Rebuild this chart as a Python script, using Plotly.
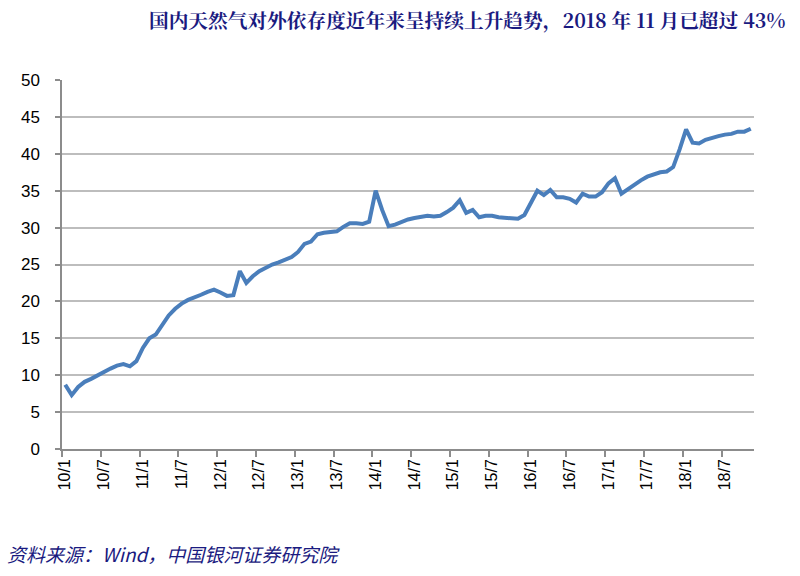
import plotly.graph_objects as go

# Monthly data 2010/1 - 2018/11 (%)
values_2010 = [8.7, 7.3, 8.4, 9.1, 9.5, 10.0, 10.4, 10.9, 11.3, 11.5, 11.2, 11.9]
values_2011 = [13.7, 15.0, 15.5, 16.8, 18.1, 19.0, 19.7, 20.2, 20.5, 20.9, 21.3, 21.6]
values_2012 = [21.2, 20.75, 20.85, 24.1, 22.5, 23.4, 24.1, 24.6, 25.0, 25.3, 25.6, 26.0]
values_2013 = [26.7, 27.8, 28.1, 29.1, 29.3, 29.35, 29.5, 30.1, 30.6, 30.6, 30.5, 30.8]
values_2014 = [35.0, 32.4, 30.2, 30.4, 30.8, 31.1, 31.3, 31.5, 31.6, 31.5, 31.6, 32.1]
values_2015 = [32.7, 33.7, 32.0, 32.4, 31.4, 31.6, 31.6, 31.4, 31.35, 31.3, 31.2, 31.7]
values_2016 = [33.5, 35.0, 34.4, 35.1, 34.1, 34.1, 33.9, 33.4, 34.6, 34.2, 34.2, 34.8]
values_2017 = [36.0, 36.7, 34.6, 35.2, 35.9, 36.4, 36.9, 37.2, 37.5, 37.6, 38.2, 40.6]
values_2018 = [43.3, 41.5, 41.4, 41.9, 42.2, 42.4, 42.6, 42.7, 43.0, 43.0, 43.4]

values = (values_2010 + values_2011 + values_2012 + values_2013 + values_2014
          + values_2015 + values_2016 + values_2017 + values_2018)

years = list(range(10, 19))
months = [f"{y}/{m}" for y in years for m in range(1, 13)][:len(values)]
tick_labels = [m for m in months if m.endswith("/1") or m.endswith("/7")]
tick_idx = [months.index(t) for t in tick_labels]
x_idx = list(range(len(values)))

title_text = "国内天然气对外依存度近年来呈持续上升趋势，2018 年 11 月已超过 43%"
source_text = "资料来源：Wind，中国银河证券研究院"

fig = go.Figure()
fig.add_trace(go.Scatter(
    x=x_idx, y=values, mode="lines",
    line=dict(color="#4A7EBB", width=4),
    hoverinfo="skip", showlegend=False,
))

fig.update_layout(
    width=800, height=576,
    margin=dict(l=62, r=46, t=80, b=127),
    paper_bgcolor="white", plot_bgcolor="white",
    font=dict(family="Liberation Sans, Arial, sans-serif", color="#000000"),
    xaxis=dict(
        range=[-0.5, len(values) - 0.5], automargin=False,
        tickmode="array", tickvals=tick_idx, ticktext=tick_labels,
        tickangle=-90, tickfont=dict(size=16, color="#000000"),
        ticks="", showgrid=False, zeroline=False,
        showline=True, linecolor="#8C8C8C", linewidth=1.5,
        minor=dict(ticks="outside", tick0=-0.5, dtick=6, ticklen=6,
                   tickcolor="#8C8C8C", tickwidth=1.5, showgrid=False),
        ticklabelstandoff=2,
    ),
    yaxis=dict(
        range=[0, 50], dtick=5, tick0=0, automargin=False,
        tickfont=dict(size=17, color="#000000"),
        ticks="outside", ticklen=5, tickcolor="#8C8C8C", tickwidth=1.5,
        showgrid=True, gridcolor="#BDBDBD", gridwidth=1.5,
        zeroline=False, showline=True, linecolor="#8C8C8C", linewidth=1.5,
        ticklabelstandoff=12,
    ),
    annotations=[
        dict(text=f"<b>{title_text}</b>", xref="paper", yref="paper",
             x=(788 - 62) / 692, y=1 + (80 - 19) / 369, xanchor="right", yanchor="middle",
             showarrow=False,
             font=dict(family="Noto Serif CJK SC, Noto Sans CJK SC, serif", size=19.7, color="#1A1A80")),
        dict(text=source_text, xref="paper", yref="paper",
             x=(5 - 62) / 692, y=-(553 - 449) / 369, xanchor="left", yanchor="middle",
             showarrow=False,
             font=dict(family="Noto Sans CJK SC, sans-serif", size=19, color="#1A1A80", style="italic")),
    ],
)

fig.write_html("out.html", config={"displayModeBar": False},
               post_script="document.body.style.margin='0';")
